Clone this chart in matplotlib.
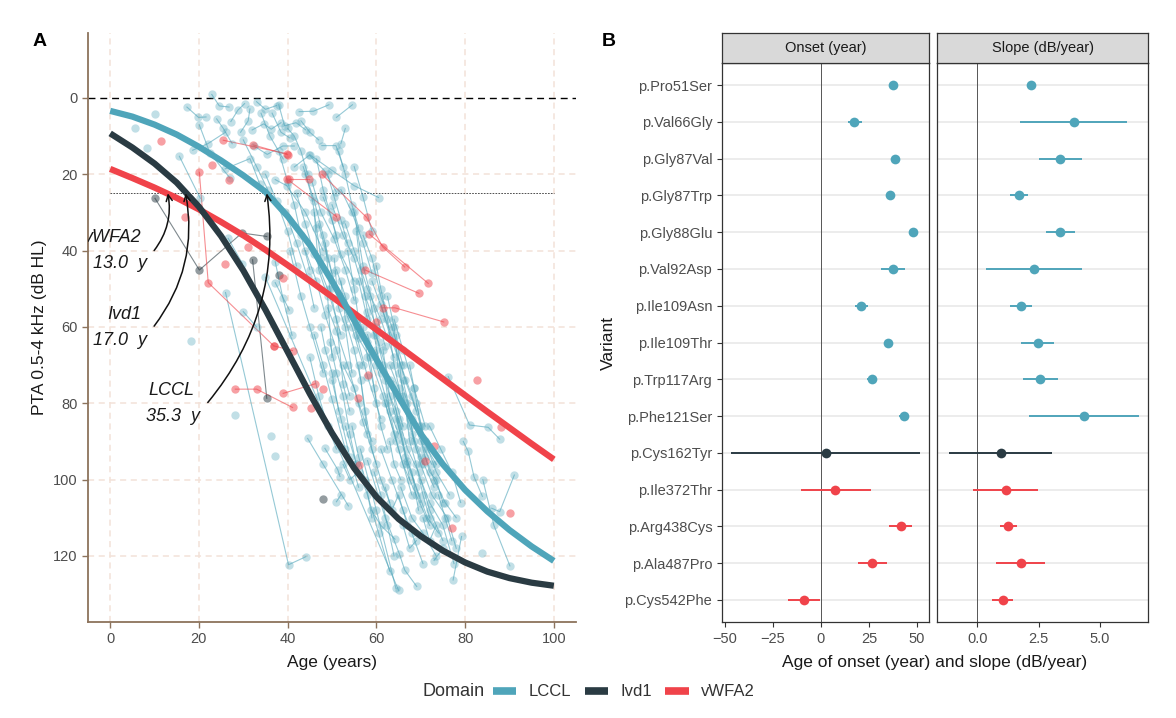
import matplotlib
matplotlib.use("Agg")
import matplotlib.pyplot as plt
from matplotlib.lines import Line2D

plt.rcParams['font.family'] = ['Liberation Sans', 'DejaVu Sans']

W, H = 1176, 718

def box(l, t, r, b):
    # pixel box -> figure fraction [left, bottom, width, height]
    return [l / W, 1 - b / H, (r - l) / W, (b - t) / H]

domains = ['LCCL', 'Ivd1', 'vWFA2']
colors = {'LCCL': '#4FA5BA', 'Ivd1': '#2A3B43', 'vWFA2': '#F0434A'}

# fitted curves, every 5 years
curve_age = [0, 5, 10, 15, 20, 25, 30, 35, 40, 45, 50, 55, 60, 65, 70, 75, 80, 85, 90, 95, 100]
curve_lccl = [3.4, 4.9, 7.0, 9.6, 12.8, 16.4, 20.3, 24.6, 31.0, 38.5, 48.0, 58.3, 68.5,
              78.3, 88.0, 96.0, 102.7, 108.3, 113.2, 117.5, 121.3]
curve_ivd1 = [9.3, 13.0, 17.2, 22.2, 28.5, 36.2, 45.2, 55.5, 66.5, 77.5, 87.8, 97.0, 104.5,
              110.3, 114.8, 118.6, 121.7, 124.1, 125.8, 127.0, 127.8]
curve_vwfa2 = [18.6, 21.0, 23.5, 26.2, 29.2, 32.5, 36.0, 39.8, 43.8, 47.9, 52.1, 56.4, 60.7,
               65.0, 69.3, 73.6, 77.9, 82.2, 86.4, 90.6, 94.7]

onset_at_25 = {'LCCL': 35.3, 'Ivd1': 17.0, 'vWFA2': 13.0}

# individual patients (age, PTA)
lccl_tracks = [
    [(5.6, 7.9)], [(8.3, 13.2)], [(10.2, 4.3)], [(18.2, 63.8)], [(28.2, 83.1)],
    [(36.2, 88.7)], [(37.2, 93.8)], [(83.7, 119.3)],
    [(15.6, 15.3), (20.3, 26.3)],
    [(18.6, 13.7), (22.0, 12.0), (26.0, 9.0)],
    [(17.3, 2.4), (19.9, 5.1), (21.6, 5.0)],
    [(20.1, 7.1), (22.5, 14.5), (27.0, 21.0)],
    [(22.9, -0.9), (24.6, 2.1), (26.8, 2.4)],
    [(27.2, 6.2), (28.8, 3.2), (30.3, 1.5)],
    [(29.4, 9.0), (31.1, 6.0), (31.5, 2.9)],
    [(32.0, 8.4), (34.6, 6.8), (36.3, 8.2), (38.5, 6.5)],
    [(38.0, 1.8), (39.3, 7.3), (41.9, 6.5), (44.1, 8.4)],
    [(42.6, 3.6), (45.8, 3.5), (49.3, 1.8)],
    [(51.0, 5.1), (54.6, 1.8)],
    [(34.0, 4.0), (36.0, 10.0), (39.0, 16.0)],
    [(32.4, 12.6), (35.4, 14.8), (38.9, 12.6), (41.5, 12.6)],
    [(25.9, 18.6), (31.5, 15.9), (33.7, 22.5)],
    [(24.0, 5.5), (25.5, 8.0), (27.5, 12.0)],
    [(30.0, 11.0), (33.0, 18.0), (35.5, 24.0)],
    [(33.0, 1.0), (35.0, 3.0), (37.5, 2.0)],
    [(36.5, 4.0), (38.5, 9.0), (40.5, 10.5)],
    [(40.0, 8.0), (41.5, 10.0), (43.0, 14.0), (44.5, 20.0)],
    [(43.0, 6.0), (45.0, 9.0), (47.0, 11.0)],
    [(53.0, 8.0), (52.0, 12.0)],
    [(26.6, 36.8), (29.8, 43.4)],
    [(30.0, 56.0), (33.0, 60.0)],
    [(37.2, 42.9), (38.9, 52.3), (41.0, 62.2)],
    [(37.2, 48.4), (40.4, 55.6)],
    [(26.0, 51.0), (40.2, 122.3), (44.1, 120.2)],
    [(35.0, 47.0), (65.0, 129.0)],
    [(37.2, 21.4), (39.8, 23.0), (44.0, 30.0), (48.0, 40.0)],
    [(41.5, 18.1), (44.9, 15.0), (48.4, 19.2), (51.0, 24.7)],
    [(45.0, 14.9), (50.0, 19.0), (55.0, 23.0), (60.5, 26.1)],
    [(47.7, 12.5), (50.9, 12.5), (52.5, 18.0)],
    [(55.0, 18.0), (57.0, 26.0), (59.0, 35.0)],
    [(44.0, 20.0), (45.5, 26.0), (46.5, 34.0), (47.5, 42.0)],
    [(46.5, 16.0), (48.0, 24.0), (49.5, 30.0), (51.0, 36.0)],
    [(49.0, 20.0), (50.5, 26.0), (52.0, 32.0), (53.5, 38.0)],
    [(51.5, 14.0), (53.0, 20.0), (54.5, 28.0), (56.0, 34.0)],
    [(35.0, 20.0), (37.5, 27.0), (40.0, 35.0), (42.0, 44.0)],
    [(38.0, 14.0), (40.0, 22.0), (41.5, 28.0), (43.0, 36.0), (45.0, 45.0)],
    [(39.5, 30.0), (42.0, 38.0), (44.5, 47.0), (46.0, 55.0)],
    [(40.5, 40.0), (43.0, 52.0), (45.0, 60.0), (48.0, 72.0)],
    [(42.0, 25.0), (44.0, 33.0), (46.0, 41.0), (49.0, 50.0), (52.0, 62.0)],
    [(43.5, 18.0), (46.0, 27.0), (48.0, 36.0), (50.0, 46.0)],
    [(44.0, 40.0), (46.5, 48.0), (48.5, 57.0), (51.0, 66.0), (54.0, 78.0)],
    [(45.5, 22.0), (47.5, 30.0), (50.5, 37.0), (53.0, 45.0), (55.0, 53.0)],
    [(46.0, 30.0), (47.0, 45.0), (49.0, 52.0), (50.0, 68.0)],
    [(46.0, 62.0), (48.0, 70.0), (50.0, 79.0), (53.0, 92.0)],
    [(47.0, 33.0), (49.0, 42.0), (51.5, 52.0), (54.5, 60.0), (57.0, 70.0)],
    [(47.5, 60.0), (48.5, 66.0), (50.0, 72.0), (51.5, 82.0)],
    [(48.0, 26.0), (50.0, 32.0), (52.0, 41.0), (55.0, 48.0)],
    [(48.5, 38.0), (49.5, 50.0), (51.0, 58.0), (52.5, 75.0), (54.0, 82.0)],
    [(49.0, 55.0), (51.0, 61.0), (53.5, 70.0), (56.0, 80.0), (59.0, 90.0)],
    [(49.5, 64.0), (51.0, 72.0), (52.5, 78.0), (54.0, 88.0), (55.5, 96.0)],
    [(50.0, 28.0), (52.5, 36.0), (55.0, 42.0), (57.5, 52.0), (60.0, 60.0)],
    [(50.5, 42.0), (51.5, 55.0), (53.0, 60.0), (54.5, 72.0)],
    [(51.0, 45.0), (53.0, 52.0), (55.5, 62.0), (58.0, 73.0), (61.0, 84.0)],
    [(52.0, 24.0), (54.5, 30.0), (57.0, 38.0), (59.0, 46.0)],
    [(52.0, 48.0), (53.0, 58.0), (55.0, 66.0), (56.5, 74.0), (58.0, 88.0)],
    [(52.5, 70.0), (55.0, 76.0), (57.0, 85.0), (60.0, 96.0)],
    [(52.5, 96.0), (54.0, 100.0), (56.0, 98.0)],
    [(53.0, 33.0), (55.0, 40.0), (58.0, 50.0), (61.0, 58.0), (64.0, 68.0)],
    [(53.5, 40.0), (55.0, 50.0), (56.0, 58.0), (58.0, 64.0), (60.0, 80.0)],
    [(54.0, 56.0), (56.0, 63.0), (58.5, 68.0), (61.5, 78.0), (64.5, 90.0)],
    [(54.5, 86.0), (56.0, 94.0), (57.5, 100.0), (59.0, 110.0)],
    [(55.0, 30.0), (57.0, 44.0), (59.5, 55.0), (62.0, 65.0)],
    [(55.5, 35.0), (56.5, 45.0), (58.0, 56.0), (59.5, 62.0), (61.0, 72.0)],
    [(56.0, 48.0), (58.0, 58.0), (60.5, 64.0), (63.0, 74.0), (66.0, 86.0)],
    [(56.0, 70.0), (57.5, 82.0), (59.0, 92.0), (61.0, 100.0), (63.0, 106.0)],
    [(57.0, 36.0), (59.0, 42.0), (61.0, 52.0), (63.5, 60.0), (66.0, 70.0)],
    [(57.0, 60.0), (58.0, 68.0), (59.5, 76.0), (61.0, 86.0), (62.5, 92.0)],
    [(58.0, 62.0), (60.0, 70.0), (62.5, 80.0), (65.0, 92.0), (68.0, 104.0)],
    [(58.5, 52.0), (60.0, 62.0), (61.5, 70.0), (63.0, 82.0), (65.0, 88.0)],
    [(59.0, 48.0), (61.5, 56.0), (64.0, 64.0), (66.5, 74.0), (69.0, 82.0)],
    [(59.5, 98.0), (61.0, 104.0), (62.5, 112.0), (64.0, 120.0)],
    [(60.0, 44.0), (61.0, 50.0), (62.5, 58.0), (64.0, 70.0), (65.5, 78.0)],
    [(60.0, 66.0), (62.0, 74.0), (64.5, 84.0), (67.0, 95.0), (70.0, 106.0)],
    [(61.0, 54.0), (63.0, 62.0), (65.5, 70.0), (68.0, 78.0), (71.0, 90.0)],
    [(61.5, 66.0), (63.0, 78.0), (64.5, 82.0), (66.0, 90.0), (67.5, 100.0)],
    [(62.0, 80.0), (64.0, 88.0), (66.0, 96.0), (69.0, 104.0), (72.0, 112.0)],
    [(62.0, 102.0), (63.5, 108.0), (65.0, 104.0), (67.0, 112.0)],
    [(62.5, 52.0), (64.0, 60.0), (65.0, 72.0), (67.0, 80.0), (68.5, 90.0)],
    [(63.0, 70.0), (65.0, 76.0), (67.5, 86.0), (70.0, 94.0), (73.0, 102.0)],
    [(63.0, 90.0), (64.0, 96.0), (65.5, 100.0)],
    [(63.5, 75.0), (65.0, 86.0), (66.5, 94.0), (68.0, 98.0), (69.5, 108.0)],
    [(64.0, 58.0), (66.0, 66.0), (68.5, 76.0), (71.0, 86.0)],
    [(64.5, 62.0), (66.0, 78.0), (67.5, 84.0), (69.0, 92.0), (70.5, 96.0)],
    [(65.0, 84.0), (67.0, 92.0), (69.5, 98.0), (72.0, 108.0), (75.0, 116.0)],
    [(65.5, 102.0), (68.0, 110.0), (70.5, 114.0), (73.5, 120.0)],
    [(66.0, 74.0), (68.0, 84.0), (70.0, 90.0), (72.5, 96.0)],
    [(66.0, 112.0), (67.5, 118.0), (69.0, 116.0)],
    [(66.5, 80.0), (67.5, 90.0), (69.0, 96.0), (70.5, 104.0), (72.0, 110.0)],
    [(67.0, 96.0), (69.0, 102.0), (71.5, 110.0), (74.0, 114.0)],
    [(67.5, 70.0), (68.5, 76.0), (70.0, 86.0), (71.5, 92.0), (73.5, 96.0)],
    [(68.0, 88.0), (70.0, 96.0), (72.5, 104.0), (76.0, 110.0), (78.0, 118.0)],
    [(69.0, 80.0), (71.0, 90.0), (73.5, 98.0), (76.5, 104.0)],
    [(69.5, 86.0), (70.5, 92.0), (72.0, 98.0), (73.5, 100.0), (75.0, 106.0)],
    [(70.0, 100.0), (72.0, 106.0), (75.0, 112.0), (77.5, 122.0)],
    [(70.5, 110.0), (72.0, 116.0), (73.5, 112.0)],
    [(71.0, 94.0), (73.0, 100.0), (75.5, 106.0), (78.0, 110.0)],
    [(72.0, 86.0), (74.5, 92.0), (77.0, 98.0), (79.0, 106.0)],
    [(74.0, 104.0), (75.5, 110.0), (77.0, 116.0)],
    [(76.2, 73.0), (81.0, 85.7), (85.2, 86.3), (87.8, 89.4)],
    [(79.6, 90.0), (80.7, 92.6), (82.0, 99.2), (83.9, 104.4)],
    [(86.0, 107.5), (87.8, 108.4), (91.1, 98.8)],
    [(84.0, 100.0), (86.5, 112.0), (90.1, 122.6)],
    [(79.2, 114.9), (77.3, 126.3)],
    [(73.0, 121.2), (75.0, 118.0)],
    [(44.5, 89.2), (48.0, 96.0), (53.7, 106.9)],
    [(48.4, 91.8), (51.3, 97.4), (51.8, 99.2)],
    [(51.0, 105.8), (52.0, 104.0)],
    [(56.4, 92.0), (60.0, 108.0), (64.4, 128.5)],
    [(58.0, 95.0), (62.0, 110.0), (65.2, 119.5), (66.4, 123.7), (69.1, 128.0)],
    [(58.9, 108.0), (61.0, 112.0), (64.2, 115.6)],
    [(45.0, 68.0), (47.0, 78.0), (49.0, 86.0), (51.0, 92.0)],
    [(50.0, 74.0), (52.0, 84.0), (54.0, 94.0), (56.0, 102.0)],
    [(53.0, 86.0), (55.5, 96.0), (58.0, 104.0), (60.5, 114.0), (63.0, 124.0)],
    [(61.0, 92.0), (63.5, 100.0), (66.0, 108.0), (68.0, 114.0), (70.5, 122.0)],
]

ivd1_tracks = [
    [(10.1, 26.3), (20.1, 45.1), (29.7, 35.4), (35.3, 36.3)],
    [(32.1, 42.4), (35.3, 78.7)],
    [(38.1, 46.4)],
    [(48.0, 105.1)],
]

vwfa2_tracks = [
    [(11.4, 11.3)], [(16.9, 31.3)], [(22.9, 17.5)], [(26.8, 21.4)], [(25.9, 43.4)],
    [(31.1, 39.0)], [(38.9, 47.3)], [(48.0, 76.3)], [(45.2, 81.3)], [(55.9, 78.7)],
    [(56.1, 96.2)], [(82.7, 73.9)], [(88.0, 86.3)], [(90.1, 108.8)], [(77.1, 112.6)],
    [(70.9, 95.0)], [(73.0, 91.3)], [(58.2, 72.6)], [(60.0, 58.6)],
    [(20.1, 19.5), (22.1, 48.4), (36.9, 65.0)],
    [(25.5, 11.1), (39.8, 14.6)],
    [(32.2, 12.3), (40.0, 14.9)],
    [(39.8, 21.2), (51.0, 31.1)],
    [(40.2, 21.3), (44.9, 21.3)],
    [(47.7, 20.0), (57.8, 31.3), (61.4, 39.0), (66.4, 44.3)],
    [(58.4, 35.7), (71.7, 48.6)],
    [(57.5, 45.1), (69.6, 51.2)],
    [(61.4, 55.0), (64.2, 55.0), (75.2, 58.7)],
    [(28.2, 76.3), (33.0, 76.3), (41.1, 81.1)],
    [(39.0, 77.4), (46.2, 74.9)],
    [(37.0, 65.0), (41.1, 66.2)],
]

# panel B
variants = ['p.Pro51Ser', 'p.Val66Gly', 'p.Gly87Val', 'p.Gly87Trp', 'p.Gly88Glu',
            'p.Val92Asp', 'p.Ile109Asn', 'p.Ile109Thr', 'p.Trp117Arg', 'p.Phe121Ser',
            'p.Cys162Tyr', 'p.Ile372Thr', 'p.Arg438Cys', 'p.Ala487Pro', 'p.Cys542Phe']
variant_domain = ['LCCL'] * 10 + ['Ivd1'] + ['vWFA2'] * 4
onset = [37.3, 17.4, 38.4, 36.1, 47.7, 37.6, 21.0, 34.7, 26.6, 43.2, 2.5, 7.5, 41.5, 26.6, -8.9]
onset_lo = [36.0, 13.9, 37.2, 34.8, 46.4, 31.5, 17.6, 33.4, 24.0, 40.7, -46.9, -10.6, 35.7, 19.5, -17.0]
onset_hi = [38.6, 21.2, 39.6, 37.4, 49.0, 43.8, 24.3, 36.0, 29.3, 45.8, 51.5, 26.1, 47.3, 34.2, -0.6]
slope = [2.17, 3.94, 3.38, 1.71, 3.38, 2.30, 1.79, 2.47, 2.55, 4.33, 0.95, 1.15, 1.26, 1.76, 1.03]
slope_lo = [2.05, 1.74, 2.50, 1.33, 2.80, 0.36, 1.33, 1.79, 1.86, 2.10, -1.15, -0.18, 0.94, 0.76, 0.61]
slope_hi = [2.30, 6.12, 4.26, 2.06, 3.98, 4.26, 2.24, 3.12, 3.27, 6.58, 3.06, 2.48, 1.61, 2.76, 1.44]

tick_grey = '#4D4D4D'
brown = '#8C735C'
grid_col = '#F3E2D8'

fig = plt.figure(figsize=(W / 100, H / 100), dpi=100)

# ---------------- panel A ----------------
ax = fig.add_axes(box(88, 33, 576, 622))
ax.set_xlim(-5, 105)
ax.set_ylim(137.3, -17)
for x in [0, 20, 40, 60, 80, 100]:
    ax.axvline(x, color=grid_col, lw=1.1, dashes=(4, 3), zorder=0)
for y in [20, 40, 60, 80, 100, 120]:
    ax.axhline(y, color=grid_col, lw=1.1, dashes=(4, 3), zorder=0)
ax.axhline(0, color='black', lw=1.0, dashes=(5, 3.5), zorder=1)
ax.plot([0, 100], [25, 25], color='#333333', lw=0.6, dashes=(2, 1.5), zorder=1)

tracks = {'LCCL': lccl_tracks, 'Ivd1': ivd1_tracks, 'vWFA2': vwfa2_tracks}
for d in domains:
    c = colors[d]
    for tr in tracks[d]:
        xs = [p[0] for p in tr]
        ys = [p[1] for p in tr]
        if len(tr) > 1:
            ax.plot(xs, ys, color=c, lw=0.8, alpha=0.6, zorder=2)
        ax.plot(xs, ys, 'o', color=c, ms=6, alpha=0.35 if d == 'LCCL' else 0.5,
                mec='none', zorder=3)

ax.plot(curve_age, curve_vwfa2, color=colors['vWFA2'], lw=4.5, solid_capstyle='butt', zorder=5)
ax.plot(curve_age, curve_ivd1, color=colors['Ivd1'], lw=4.5, solid_capstyle='butt', zorder=5)
ax.plot(curve_age, curve_lccl, color=colors['LCCL'], lw=4.5, solid_capstyle='butt', zorder=5)

# onset labels with curved arrows: name position, value position, arrow start
lab = {'vWFA2': ((0.3, 36.6), (2.3, 43.4), (9.9, 40.0)),
       'Ivd1': ((3.2, 56.7), (2.3, 63.5), (9.9, 59.8)),
       'LCCL': ((13.9, 76.7), (14.1, 83.5), (22.0, 79.8))}
for d in ['vWFA2', 'Ivd1', 'LCCL']:
    npos, vpos, start = lab[d]
    ax.text(npos[0], npos[1], d, ha='center', va='center', style='italic',
            fontsize=13, color='#1A1A1A', clip_on=True, zorder=6)
    ax.text(vpos[0], vpos[1], '%.1f  y' % onset_at_25[d], ha='center', va='center',
            style='italic', fontsize=13, color='#1A1A1A', clip_on=True, zorder=6)
    ax.annotate('', xy=(onset_at_25[d], 25), xytext=start,
                arrowprops=dict(arrowstyle='->', color='#111111', lw=1.1,
                                connectionstyle='arc3,rad=0.22', shrinkA=0, shrinkB=0,
                                mutation_scale=11), zorder=7)

ax.set_xticks([0, 20, 40, 60, 80, 100])
ax.set_yticks([0, 20, 40, 60, 80, 100, 120])
ax.tick_params(colors=brown, labelcolor=tick_grey, labelsize=10.5, length=4, width=1)
for s in ['top', 'right']:
    ax.spines[s].set_visible(False)
for s in ['left', 'bottom']:
    ax.spines[s].set_color(brown)
    ax.spines[s].set_linewidth(1.3)
ax.set_xlabel('Age (years)', fontsize=12.5, color='#1A1A1A', labelpad=6)
ax.set_ylabel('PTA 0.5-4 kHz (dB HL)', fontsize=12.5, color='#1A1A1A', labelpad=4)
fig.text(33 / W, 1 - 42 / H, 'A', fontsize=14, fontweight='bold', va='center', ha='left')

# ---------------- panel B ----------------
axO = fig.add_axes(box(722, 63, 929, 622))
axS = fig.add_axes(box(937, 63, 1148, 622), sharey=axO)
ypos = list(range(len(variants)))
facets = [(axO, onset, onset_lo, onset_hi, 'Onset (year)', (-51.6, 56.3),
           [-50, -25, 0, 25, 50], ['\u221250', '\u221225', '0', '25', '50'], (722, 929)),
          (axS, slope, slope_lo, slope_hi, 'Slope (dB/year)', (-1.65, 6.96),
           [0, 2.5, 5], ['0.0', '2.5', '5.0'], (937, 1148))]
for a, est, lo, hi, title, xl, xt, xtl, (l, r) in facets:
    a.set_xlim(*xl)
    for yy in ypos:
        a.axhline(yy, color='#EBEBEB', lw=1.3, zorder=0)
    a.axvline(0, color='#555555', lw=0.7, zorder=1)
    for i in ypos:
        c = colors[variant_domain[i]]
        a.plot([lo[i], hi[i]], [i, i], color=c, lw=1.4, solid_capstyle='butt', zorder=2)
        a.plot(est[i], i, 'o', color=c, ms=7, mec='none', zorder=3)
    a.set_xticks(xt)
    a.set_xticklabels(xtl)
    for s in a.spines.values():
        s.set_color('#333333')
        s.set_linewidth(0.9)
    a.tick_params(colors='#333333', labelcolor=tick_grey, labelsize=10.5, length=3.5)
    st = fig.add_axes(box(l, 33, r, 63))
    st.set_facecolor('#D9D9D9')
    st.set_xticks([])
    st.set_yticks([])
    for s in st.spines.values():
        s.set_color('#333333')
        s.set_linewidth(0.9)
    st.text(0.5, 0.5, title, ha='center', va='center', fontsize=10.5, color='#1A1A1A',
            transform=st.transAxes)

axO.set_yticks(ypos)
axO.set_yticklabels(variants)
axO.set_ylim(len(variants) - 0.4, -0.6)
axS.tick_params(axis='y', left=False, labelleft=False)
axO.set_ylabel('Variant', fontsize=12.5, color='#1A1A1A', labelpad=6)
fig.text(935 / W, 1 - 662 / H, 'Age of onset (year) and slope (dB/year)', ha='center',
         va='center', fontsize=12.5, color='#1A1A1A')
fig.text(602 / W, 1 - 42 / H, 'B', fontsize=14, fontweight='bold', va='center', ha='left')

# ---------------- legend ----------------
handles = [Line2D([0], [0], color=colors[d], lw=5.5, solid_capstyle='butt') for d in domains]
fig.text(422 / W, 1 - 692 / H, 'Domain', ha='left', va='center', fontsize=13, color='#333333')
fig.legend(handles, domains, loc='center', bbox_to_anchor=(624 / W, 1 - 692 / H), ncol=3,
           frameon=False, fontsize=12, handlelength=1.4, handletextpad=0.75,
           columnspacing=0.8, labelcolor='#333333')

fig.savefig('out.png', dpi=100)
